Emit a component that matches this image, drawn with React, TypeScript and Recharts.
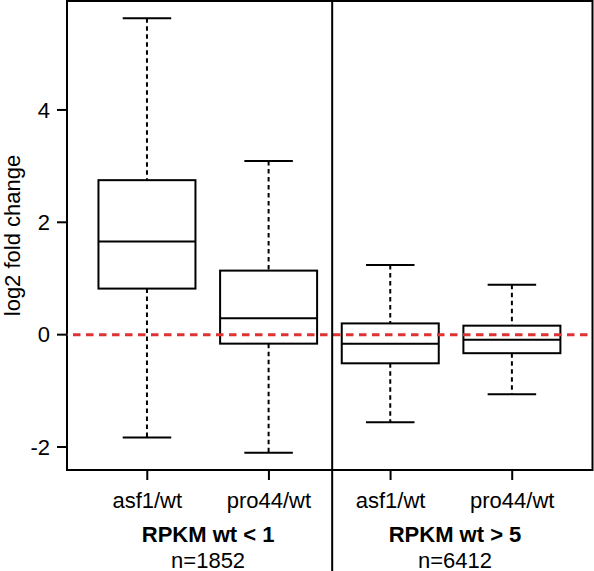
import React from 'react';
import { ComposedChart, Bar, XAxis, YAxis, ReferenceLine, ReferenceArea } from 'recharts';

const categories = ['asf1/wt', 'pro44/wt', 'asf1/wt', 'pro44/wt'];
const positions = [1, 2, 3, 4];
const whiskerLow = [-1.83, -2.1, -1.56, -1.06];
const quartile1 = [0.82, -0.16, -0.51, -0.33];
const medians = [1.66, 0.29, -0.16, -0.09];
const quartile3 = [2.75, 1.14, 0.2, 0.16];
const whiskerHigh = [5.63, 3.09, 1.24, 0.89];

const groupLabels = ['RPKM wt < 1', 'RPKM wt > 5'];
const groupCounts = ['n=1852', 'n=6412'];
const groupPositions = [1.5, 3.53];
const dividerPosition = 2.52;
const yTicks = [-2, 0, 2, 4];

const W = 594;
const H = 571;
const FONT = '"Liberation Sans", Arial, Helvetica, sans-serif';

const data = positions.map((p, i) => ({
  pos: p,
  name: categories[i],
  low: whiskerLow[i],
  q1: quartile1[i],
  median: medians[i],
  q3: quartile3[i],
  high: whiskerHigh[i],
  range: [whiskerLow[i], whiskerHigh[i]],
}));

const allVals = [...whiskerLow, ...whiskerHigh];
const yMin = Math.min(...allVals);
const yMax = Math.max(...allVals);
const yPad = (yMax - yMin) * 0.04;
const yDomain: [number, number] = [yMin - yPad, yMax + yPad];
const xPad = (positions.length) * 0.04;
const xDomain: [number, number] = [0.5 - xPad, positions.length + 0.5 + xPad];

const BoxShape = (props: any) => {
  const { x, y, width, height, payload } = props;
  if (payload == null) return null;
  const span = payload.high - payload.low;
  const py = (v: number) => y + ((payload.high - v) / span) * height;
  const cx = x + width / 2;
  const capHalf = width / 4;
  const dash = '4.5 3.5';
  return (
    <g>
      <line x1={cx} x2={cx} y1={py(payload.high)} y2={py(payload.q3)} stroke="#000" strokeWidth={2} strokeDasharray={dash} />
      <line x1={cx} x2={cx} y1={py(payload.q1)} y2={py(payload.low)} stroke="#000" strokeWidth={2} strokeDasharray={dash} />
      <line x1={cx - capHalf} x2={cx + capHalf} y1={py(payload.high)} y2={py(payload.high)} stroke="#000" strokeWidth={2} />
      <line x1={cx - capHalf} x2={cx + capHalf} y1={py(payload.low)} y2={py(payload.low)} stroke="#000" strokeWidth={2} />
      <rect x={x} y={py(payload.q3)} width={width} height={py(payload.q1) - py(payload.q3)} fill="none" stroke="#000" strokeWidth={2} />
      <line x1={x} x2={x + width} y1={py(payload.median)} y2={py(payload.median)} stroke="#000" strokeWidth={2} />
    </g>
  );
};

const GroupTick = (props: any) => {
  const { x, y, payload } = props;
  const idx = groupPositions.indexOf(payload.value);
  if (idx < 0) return null;
  return (
    <g>
      <text x={x} y={y + 31.5} textAnchor="middle" fontSize={22} fontWeight="bold" fontFamily={FONT} fill="#000">
        {groupLabels[idx]}
      </text>
      <text x={x} y={y + 57.5} textAnchor="middle" fontSize={22} fontFamily={FONT} fill="#000">
        {groupCounts[idx]}
      </text>
    </g>
  );
};

const DividerShape = (props: any) => {
  const { x1, y1, x2, y2 } = props;
  const top = Math.min(y1, y2);
  return <line x1={x1} x2={x2} y1={top} y2={H} stroke="#000" strokeWidth={2} />;
};

export default function App() {
  return (
    <div style={{ width: W, height: H, background: '#fff' }}>
      <style>{`body{margin:0;background:#fff}`}</style>
      <ComposedChart
        width={W}
        height={H}
        data={data}
        margin={{ top: 1, right: 1.5, bottom: 0, left: 0 }}
      >
        <XAxis
          dataKey="pos"
          type="number"
          domain={xDomain}
          ticks={positions}
          tickFormatter={(v: number) => categories[positions.indexOf(v)] ?? ''}
          axisLine={false}
          tickLine={{ stroke: '#000', strokeWidth: 2 }}
          tickSize={10}
          tickMargin={12}
          height={40}
          tick={{ fontSize: 22, fill: '#000', fontFamily: FONT }}
          allowDataOverflow
        />
        <XAxis
          xAxisId="grp"
          dataKey="pos"
          type="number"
          domain={xDomain}
          ticks={groupPositions}
          axisLine={false}
          tickLine={false}
          tickSize={0}
          tickMargin={0}
          height={61}
          tick={<GroupTick />}
          interval={0}
          allowDataOverflow
        />
        <YAxis
          type="number"
          domain={yDomain}
          ticks={yTicks}
          width={67}
          axisLine={false}
          tickLine={{ stroke: '#000', strokeWidth: 2 }}
          tickSize={10}
          tickMargin={7}
          tick={{ fontSize: 22, fill: '#000', fontFamily: FONT }}
          allowDataOverflow
          label={{
            value: 'log2 fold change',
            angle: -90,
            position: 'insideLeft',
            offset: 12,
            style: { textAnchor: 'middle', fontSize: 22, fill: '#000', fontFamily: FONT },
          }}
        />
        <Bar dataKey="range" barSize={97} shape={<BoxShape />} isAnimationActive={false} />
        <ReferenceLine y={0} stroke="#DD3333" strokeWidth={3} strokeDasharray="7.5 5.5" strokeDashoffset={-6} />
        <ReferenceLine x={dividerPosition} shape={<DividerShape />} />
        <ReferenceArea
          x1={xDomain[0]}
          x2={xDomain[1]}
          y1={yDomain[0]}
          y2={yDomain[1]}
          fill="none"
          fillOpacity={0}
          stroke="#000"
          strokeWidth={2}
        />
      </ComposedChart>
    </div>
  );
}
